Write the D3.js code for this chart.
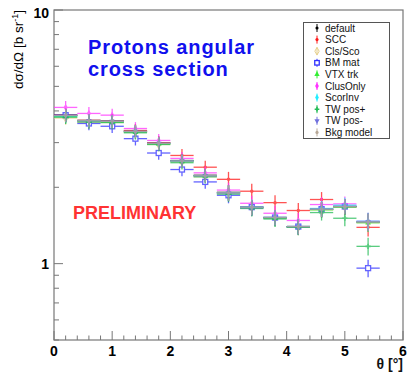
<!DOCTYPE html>
<html>
<head>
<meta charset="utf-8">
<script src="https://cdn.jsdelivr.net/npm/d3@7"></script>
<style>
  body { margin: 0; background: #fff; }
  svg { display: block; font-family: "Liberation Sans", Arial, sans-serif; }
</style>
</head>
<body>
<div id="area"></div>
<script>
'use strict';

// bins in theta [deg], width 0.4
const binCenters = [0.2, 0.6, 1.0, 1.4, 1.8, 2.2, 2.6, 3.0, 3.4, 3.8, 4.2, 4.6, 5.0, 5.4];
const binHalf = 0.2;
const relErr = [0.06, 0.06, 0.06, 0.06, 0.06, 0.06, 0.06, 0.07, 0.07, 0.07, 0.07, 0.07, 0.07, 0.08];

const vDefault  = [3.85, 3.67, 3.65, 3.33, 2.99, 2.55, 2.23, 1.91, 1.67, 1.52, 1.40, 1.64, 1.68, 1.46];
const vSCC      = [3.85, 3.67, 3.65, 3.35, 3.00, 2.67, 2.40, 2.15, 1.93, 1.74, 1.62, 1.79, 1.68, 1.39];
const vClsSco   = [3.75, 3.60, 3.60, 3.30, 2.95, 2.52, 2.20, 1.90, 1.66, 1.51, 1.39, 1.63, 1.67, 1.45];
const vBMmat    = [3.85, 3.57, 3.48, 3.11, 2.73, 2.35, 2.10, 1.86, 1.67, 1.52, 1.40, 1.64, 1.68, 0.96];
const vVTXtrk   = [3.80, 3.65, 3.62, 3.30, 2.97, 2.53, 2.22, 1.90, 1.66, 1.51, 1.40, 1.63, 1.67, 1.45];
const vClusOnly = [4.13, 3.91, 3.85, 3.41, 3.06, 2.60, 2.28, 1.95, 1.73, 1.58, 1.48, 1.71, 1.72, 1.47];
const vScorInv  = [3.82, 3.66, 3.64, 3.32, 2.98, 2.54, 2.22, 1.90, 1.67, 1.52, 1.40, 1.65, 1.70, 1.47];
const vTWplus   = [3.78, 3.62, 3.60, 3.28, 2.95, 2.50, 2.20, 1.88, 1.65, 1.50, 1.39, 1.59, 1.51, 1.17];
const vTWminus  = [3.84, 3.66, 3.64, 3.32, 2.98, 2.54, 2.22, 1.90, 1.66, 1.52, 1.40, 1.64, 1.68, 1.46];
const vBkg      = [3.84, 3.66, 3.64, 3.32, 2.98, 2.54, 2.22, 1.90, 1.67, 1.52, 1.40, 1.64, 1.68, 1.46];

const seriesNames = ["default", "SCC", "Cls/Sco", "BM mat", "VTX trk", "ClusOnly", "ScorInv", "TW pos+", "TW pos-", "Bkg model"];
const seriesValues = [vDefault, vSCC, vClsSco, vBMmat, vVTXtrk, vClusOnly, vScorInv, vTWplus, vTWminus, vBkg];
const seriesColors = ["#000000", "#ff1a1a", "#e6cf8a", "#3030ff", "#33ee33", "#ff33ff", "#22eeff", "#22bb55", "#7070dd", "#b8a898"];
const seriesMarkers = ["dot", "dot", "diamondOpen", "squareOpen", "triangle", "diamond", "diamond", "cross", "triangleDown", "dot"];

const xTickLabels = [0, 1, 2, 3, 4, 5, 6];
const yTickLabels = [1, 10];

const W = 417, H = 374;
const svg = d3.select('#area').append('svg').attr('width', W).attr('height', H);

const x = d3.scaleLinear().domain([0, 6]).range([54, 403]);
const y = d3.scaleLog().domain([0.5, 10]).range([340, 10]);

// frame
svg.append('rect')
  .attr('x', x(0)).attr('y', y(10))
  .attr('width', x(6) - x(0)).attr('height', y(0.5) - y(10))
  .attr('fill', 'none').attr('stroke', '#777').attr('stroke-width', 1.2);

// x ticks (inward)
x.ticks(30).forEach(function (t) {
  let major = Math.abs(t - Math.round(t)) < 1e-6;
  svg.append('line')
    .attr('x1', x(t)).attr('x2', x(t))
    .attr('y1', y(0.5)).attr('y2', y(0.5) - (major ? 9 : 4.5))
    .attr('stroke', '#777').attr('stroke-width', 1);
});
xTickLabels.forEach(function (t) {
  svg.append('text')
    .attr('x', x(t)).attr('y', 356)
    .attr('text-anchor', 'middle')
    .attr('font-size', 14).attr('font-weight', 'bold')
    .text(t);
});

// y ticks (log, inward)
y.ticks().forEach(function (t) {
  let major = yTickLabels.indexOf(t) >= 0;
  svg.append('line')
    .attr('x1', x(0)).attr('x2', x(0) + (major ? 9 : 5))
    .attr('y1', y(t)).attr('y2', y(t))
    .attr('stroke', '#777').attr('stroke-width', 1);
});
yTickLabels.forEach(function (t) {
  svg.append('text')
    .attr('x', 49).attr('y', y(t) + 5 + (t == 10 ? 3 : 0))
    .attr('text-anchor', 'end')
    .attr('font-size', 14).attr('font-weight', 'bold')
    .text(t);
});

// axis titles
svg.append('text')
  .attr('transform', 'translate(23,10) rotate(-90)')
  .attr('text-anchor', 'end')
  .attr('font-size', 13.5).attr('fill', '#000')
  .html('d&#963;/d&#937; [b sr<tspan dy="-5" font-size="9">-1</tspan><tspan dy="5">]</tspan>');

svg.append('text')
  .attr('x', 403).attr('y', 369)
  .attr('text-anchor', 'end')
  .attr('font-size', 14).attr('font-weight', 'bold').attr('fill', '#111')
  .text('\u03b8 [\u00b0]');

// markers
function drawMarker(g, kind, cx, cy, color, s) {
  if (kind == 'dot') {
    g.append('circle').attr('cx', cx).attr('cy', cy).attr('r', s * 0.35).attr('fill', color);
  } else if (kind == 'squareOpen') {
    g.append('rect').attr('x', cx - s / 2).attr('y', cy - s / 2).attr('width', s).attr('height', s)
      .attr('fill', '#fff').attr('stroke', color).attr('stroke-width', 1.3);
  } else if (kind == 'diamondOpen') {
    g.append('path').attr('transform', 'translate(' + cx + ',' + cy + ')')
      .attr('d', d3.symbol(d3.symbolDiamond, s * s * 0.8)())
      .attr('fill', 'none').attr('stroke', color).attr('stroke-width', 1);
  } else if (kind == 'triangle') {
    g.append('path').attr('transform', 'translate(' + cx + ',' + cy + ')')
      .attr('d', d3.symbol(d3.symbolTriangle, s * s * 0.6)()).attr('fill', color);
  } else if (kind == 'triangleDown') {
    g.append('path').attr('transform', 'translate(' + cx + ',' + cy + ') rotate(180)')
      .attr('d', d3.symbol(d3.symbolTriangle, s * s * 0.6)()).attr('fill', color);
  } else if (kind == 'diamond') {
    g.append('path').attr('transform', 'translate(' + cx + ',' + cy + ')')
      .attr('d', d3.symbol(d3.symbolDiamond, s * s * 0.6)()).attr('fill', color);
  } else if (kind == 'cross') {
    g.append('path').attr('transform', 'translate(' + cx + ',' + cy + ')')
      .attr('d', d3.symbol(d3.symbolCross, s * s * 0.6)()).attr('fill', color);
  }
}

// data points with error bars
seriesValues.forEach(function (vals, si) {
  let g = svg.append('g').attr('opacity', si == 0 ? 0.9 : 0.75);
  let col = seriesColors[si];
  vals.forEach(function (v, i) {
    let c = binCenters[i];
    let e = v * relErr[i];
    g.append('line')
      .attr('x1', x(c - binHalf)).attr('x2', x(c + binHalf))
      .attr('y1', y(v)).attr('y2', y(v))
      .attr('stroke', col).attr('stroke-width', 1.3);
    g.append('line')
      .attr('x1', x(c)).attr('x2', x(c))
      .attr('y1', y(v + e)).attr('y2', y(v - e))
      .attr('stroke', col).attr('stroke-width', 1.3);
    drawMarker(g, seriesMarkers[si], x(c), y(v), col, 5);
  });
});

// legend
const lg = svg.append('g');
lg.append('rect')
  .attr('x', 303.5).attr('y', 22.5).attr('width', 86).attr('height', 116)
  .attr('fill', '#fff').attr('stroke', '#555').attr('stroke-width', 1);
seriesNames.forEach(function (name, i) {
  let ly = 28 + i * 11.6;
  let col = seriesColors[i];
  lg.append('line').attr('x1', 317).attr('x2', 317).attr('y1', ly - 4).attr('y2', ly + 4)
    .attr('stroke', col).attr('stroke-width', 1);
  drawMarker(lg, seriesMarkers[i], 317, ly, col, 4.5);
  lg.append('text')
    .attr('x', 325).attr('y', ly + 3.5)
    .attr('font-size', 10).attr('fill', '#111')
    .text(name);
});

// annotations
svg.append('text').attr('x', 88).attr('y', 54)
  .attr('font-size', 20).attr('font-weight', 'bold').attr('fill', '#1010ee')
  .attr('letter-spacing', 0.9)
  .text('Protons angular');
svg.append('text').attr('x', 88).attr('y', 76)
  .attr('font-size', 20).attr('font-weight', 'bold').attr('fill', '#1010ee')
  .attr('letter-spacing', 0.9)
  .text('cross section');
svg.append('text').attr('x', 73).attr('y', 219)
  .attr('font-size', 18).attr('font-weight', 'bold').attr('fill', '#ff3333')
  .text('PRELIMINARY');
</script>
</body>
</html>
